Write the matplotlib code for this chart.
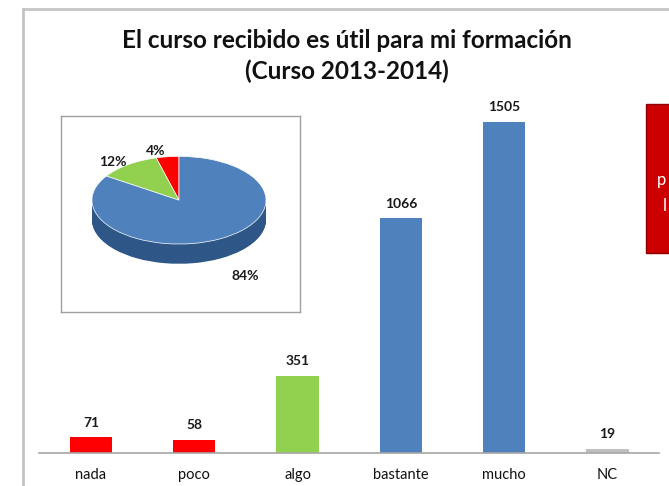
import matplotlib.pyplot as plt
from matplotlib.patches import Rectangle
from matplotlib.lines import Line2D
import numpy as np

# respuestas a "El curso recibido es útil para mi formación"
categorias = ['nada', 'poco', 'algo', 'bastante', 'mucho', 'NC']
respuestas = [71, 58, 351, 1066, 1505, 19]
colores = ['#FF0000', '#FF0000', '#92D050', '#4F81BD', '#4F81BD', '#BFBFBF']

# agrupación para el gráfico circular: negativo / neutro / positivo
grupos_pie = [respuestas[0] + respuestas[1], respuestas[2], respuestas[3] + respuestas[4]]
colores_pie = ['#FF0000', '#92D050', '#4F81BD']
colores_lado = ['#A00000', '#5E8A2A', '#2E5788']

plt.rcParams['font.family'] = ['Lato', 'DejaVu Sans']

W, H = 669, 486
fig = plt.figure(figsize=(W / 100, H / 100), dpi=100)

def px(x0, y0, x1, y1):
    # caja en píxeles (origen arriba a la izquierda) -> fracción de figura
    return [x0 / W, 1 - y1 / H, (x1 - x0) / W, (y1 - y0) / H]

# marco del gráfico
fig.add_artist(Line2D([23 / W, 23 / W], [0, 1 - 9 / H], color='#c4c4c4', lw=2))
fig.add_artist(Line2D([23 / W, 1], [1 - 9 / H, 1 - 9 / H], color='#c4c4c4', lw=2))

# título
fig.text(347 / W, 1 - 40 / H, 'El curso recibido es útil para mi formación',
         ha='center', va='center', fontsize=17.5, fontweight='bold', color='#111111')
fig.text(347 / W, 1 - 71 / H, '(Curso 2013-2014)',
         ha='center', va='center', fontsize=17.5, fontweight='bold', color='#111111')

# gráfico de barras
ax = fig.add_axes(px(39.35, 79, 659.2, 453))
x = np.arange(len(categorias))
barras = ax.bar(x, respuestas, width=0.41, color=colores)
ax.set_xlim(-0.5, 5.5)
ax.set_ylim(0, 1700)
for b, v in zip(barras, respuestas):
    ax.text(b.get_x() + b.get_width() / 2, v + 40, str(v), ha='center', va='bottom',
            fontsize=10, fontweight='bold', color='#1a1a1a')
for s in ['top', 'right', 'left']:
    ax.spines[s].set_visible(False)
ax.spines['bottom'].set_color('#a6a6a6')
ax.spines['bottom'].set_linewidth(1.2)
ax.set_yticks([])
ax.set_xticks(x)
ax.set_xticklabels(categorias, fontsize=10.5, color='#111111')
ax.tick_params(axis='x', length=0, pad=11)

# gráfico circular con efecto 3D
axp = fig.add_axes(px(61, 116, 300, 312))
espesor = 0.45
for t in np.linspace(espesor, 0.02, 30):
    axp.pie(grupos_pie, colors=colores_lado, startangle=90, center=(0, -t),
            wedgeprops=dict(linewidth=0))
axp.pie(grupos_pie, colors=colores_pie, startangle=90,
        wedgeprops=dict(linewidth=0.5, edgecolor='white'))
axp.set_aspect('auto')
axp.set_xlim(-1.356, 1.391)
axp.set_ylim(-2.55, 1.92)
axp.set_frame_on(True)
for s in axp.spines.values():
    s.set_color('#a0a0a0')
    s.set_linewidth(1)
axp.set_xticks([])
axp.set_yticks([])

total = sum(grupos_pie)
pct = [f'{round(100 * g / total)}%' for g in grupos_pie]
estilo = dict(ha='center', va='center', fontsize=10, fontweight='bold', color='#1a1a1a')
axp.text(-0.27, 1.12, pct[0], **estilo)
axp.text(-0.76, 0.86, pct[1], **estilo)
axp.text(0.76, -1.74, pct[2], **estilo)

# cuadro rojo lateral
fig.add_artist(Rectangle((646 / W, 1 - 253 / H), 30 / W, 149 / H, facecolor='#CC0000',
                         edgecolor='#8c0000', lw=1))
fig.text(657 / W, 1 - 180 / H, 'p', color='white', fontsize=12, va='center', ha='left')
fig.text(663 / W, 1 - 206 / H, 'l', color='white', fontsize=12, va='center', ha='left')

fig.savefig('out.png', dpi=100, facecolor='white')
